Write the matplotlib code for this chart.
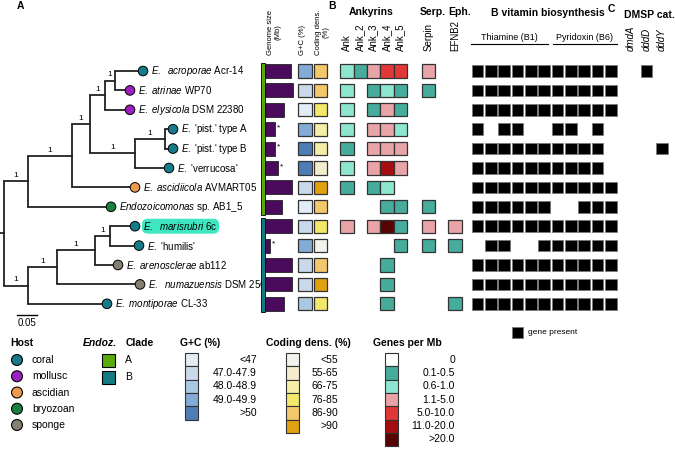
import numpy as np
import matplotlib.pyplot as plt
from matplotlib.patches import Rectangle

plt.rcParams['font.family'] = ['Liberation Sans', 'DejaVu Sans']
plt.rcParams['mathtext.fontset'] = 'custom'
plt.rcParams['mathtext.it'] = 'Liberation Sans:italic'
plt.rcParams['mathtext.rm'] = 'Liberation Sans'
plt.rcParams['mathtext.bf'] = 'Liberation Sans:bold'

# ---- data ----
# tree: (support, branch length, children); leaves have no children
tree = (None, 0.01, [
    ("1", 0.06, [
        ("1", 0.11, [
            ("1", 0.045, [
                ("1", 0.0375, [
                    ("1", 0.025, [("acroporae", 0.07, []), ("atrinae", 0.0375, [])]),
                    ("elysicola", 0.0625, [])]),
                ("1", 0.1125, [
                    ("1", 0.075, [("pistA", 0.02, []), ("pistB", 0.02, [])]),
                    ("verrucosa", 0.085, [])])]),
            ("ascidiicola", 0.1575, [])]),
        ("AB1_5", 0.2075, [])]),
    ("1", 0.06, [
        ("1", 0.0725, [
            ("1", 0.095, [
                ("1", 0.0375, [("marisrubri", 0.0625, []), ("humilis", 0.0725, [])]),
                ("arenosclerae", 0.0575, [])]),
            ("numazuensis", 0.2075, [])]),
        ("montiporae", 0.1975, [])]),
])

labels = [r"$E.$  $acroporae$ Acr-14", r"$E.$ $atrinae$ WP70", r"$E.$ $elysicola$ DSM 22380",
          r"$E.$ 'pist.' type A", r"$E.$ 'pist.' type B", r"$E.$ 'verrucosa'",
          r"$E.$ $ascidiicola$ AVMART05", r"$Endozoicomonas$ sp. AB1_5",
          r"$E.$  $marisrubri$ 6c", r"$E.$ 'humilis'", r"$E.$ $arenosclerae$ ab112",
          r"$E.$  $numazuensis$ DSM 25634", r"$E.$ $montiporae$ CL-33"]
highlight = 8
host = ["coral", "mollusc", "mollusc", "coral", "coral", "coral", "ascidian",
        "bryozoan", "coral", "coral", "sponge", "sponge", "coral"]
clade = ["A"] * 8 + ["B"] * 5
genome_mb = [6.1, 6.6, 4.5, 2.35, 2.35, 3.05, 6.35, 4.0, 6.35, 1.2, 6.35, 6.3, 4.5]
partial = [False, False, False, True, True, True, False, False, False, True, False, False, False]
gc_bin = [3, 1, 0, 3, 4, 4, 1, 0, 1, 3, 1, 1, 2]
cd_bin = [4, 4, 3, 2, 2, 1, 5, 4, 3, 0, 4, 5, 3]

gene_cols = ["Ank", "Ank_2", "Ank_3", "Ank_4", "Ank_5", "Serpin", "EFNB2"]
gene_bin = [
    [2, 1, 3, 4, 4, 3, 0],
    [2, 0, 1, 2, 1, 1, 0],
    [2, 0, 1, 3, 1, 0, 0],
    [2, 0, 3, 3, 2, 0, 0],
    [1, 0, 3, 3, 3, 0, 0],
    [2, 0, 3, 5, 3, 0, 0],
    [1, 0, 1, 2, 0, 0, 0],
    [0, 0, 0, 1, 1, 1, 0],
    [3, 0, 3, 6, 1, 3, 3],
    [0, 0, 0, 0, 1, 1, 1],
    [0, 0, 0, 1, 0, 0, 0],
    [0, 0, 0, 1, 0, 0, 0],
    [0, 0, 0, 1, 0, 0, 1],
]
vit = [
    [1, 1, 1, 1, 1, 1, 1, 1, 1, 1, 1],
    [1, 1, 1, 1, 1, 1, 1, 1, 1, 1, 1],
    [1, 1, 1, 1, 1, 1, 1, 1, 1, 1, 1],
    [1, 0, 1, 1, 0, 0, 1, 1, 0, 1, 0],
    [1, 1, 1, 1, 1, 1, 1, 1, 1, 1, 0],
    [1, 1, 1, 1, 1, 1, 1, 1, 1, 1, 0],
    [1, 1, 1, 1, 1, 1, 1, 1, 1, 1, 1],
    [1, 1, 1, 1, 1, 1, 0, 0, 1, 1, 1],
    [1, 1, 1, 1, 1, 1, 1, 1, 1, 1, 1],
    [0, 1, 1, 0, 0, 1, 1, 1, 1, 1, 1],
    [1, 1, 1, 1, 1, 1, 1, 1, 1, 1, 1],
    [1, 1, 1, 1, 1, 1, 1, 1, 1, 1, 1],
    [1, 1, 1, 1, 1, 1, 1, 1, 1, 1, 1],
]
dmsp_cols = ["dmdA", "dddD", "dddY"]
dmsp = [[0, 1, 0], [0, 0, 0], [0, 0, 0], [0, 0, 0], [0, 0, 1]] + [[0, 0, 0]] * 8

host_names = ["coral", "mollusc", "ascidian", "bryozoan", "sponge"]
host_colors = {"coral": "#167a8a", "mollusc": "#9b1fc1", "ascidian": "#eb9a4e",
               "bryozoan": "#19803f", "sponge": "#857f72"}
clade_colors = {"A": "#5aaa0e", "B": "#147b82"}
gc_labels = ["<47", "47.0-47.9", "48.0-48.9", "49.0-49.9", ">50"]
gc_colors = ["#e2ecf7", "#cbdaeb", "#a9c8e1", "#82acd6", "#4e7db6"]
cd_labels = ["<55", "55-65", "66-75", "76-85", "86-90", ">90"]
cd_colors = ["#f3f3ee", "#f3eccd", "#f5eea6", "#f3e86a", "#f3c76c", "#dfa012"]
gene_labels = ["0", "0.1-0.5", "0.6-1.0", "1.1-5.0", "5.0-10.0", "11.0-20.0", ">20.0"]
gene_colors = ["#ffffff", "#46ac9c", "#8de6cf", "#e9a4a8", "#e23737", "#a50d10", "#580404"]

# ---- layout ----
W, H = 675, 449
fig = plt.figure(figsize=(W / 100, H / 100), dpi=100)


def px_axes(x0, y0, x1, y1):
    ax = fig.add_axes([x0 / W, 1 - y1 / H, (x1 - x0) / W, (y1 - y0) / H])
    ax.set_axis_off()
    return ax


row0, dy = 71, 19.4
ytop, ybot = row0 - dy / 2, row0 + dy * 12.5

# overlay for titles and legends (pixel coordinates)
ax_o = px_axes(0, 0, W, H)
ax_o.set_xlim(0, W)
ax_o.set_ylim(H, 0)

# ---- tree ----
ax_t = px_axes(0, ytop, 255, ybot)
ax_t.set_xlim(-0.01, -0.01 + 255 / 400)
ax_t.set_ylim(12.5, -0.5)

tips = []


def walk(node, x0):
    sup, bl, kids = node
    x = x0 + bl
    if kids:
        ys = [walk(k, x) for k in kids]
        y = (ys[0] + ys[-1]) / 2
        ax_t.plot([x, x], [ys[0], ys[-1]], color="#222222", lw=1.3, solid_capstyle="butt")
        if sup:
            ax_t.text((x0 + x) / 2, y - 0.12, sup, ha="center", va="bottom", fontsize=6)
    else:
        y = len(tips)
        tips.append(x)
    ax_t.plot([x0, x], [y, y], color="#222222", lw=1.3, solid_capstyle="projecting")
    return y


walk(tree, -0.01)
rows = np.arange(len(tips))
ax_t.scatter(tips, rows, s=48, c=[host_colors[h] for h in host], edgecolors="black",
             linewidths=0.7, zorder=3, clip_on=False)
for i, (x, lab) in enumerate(zip(tips, labels)):
    kw = {}
    if i == highlight:
        kw["bbox"] = dict(boxstyle="round,pad=0.15,rounding_size=0.6", fc="#3fe6c2", ec="none")
    ax_t.annotate(lab, (x, i), xytext=(6, 0), textcoords="offset points",
                  va="center", fontsize=7, annotation_clip=False, **kw)

ax_t.plot([0.0325, 0.0825], [12.6, 12.6], color="black", lw=1, clip_on=False)
ax_t.text(0.0575, 12.75, "0.05", ha="center", va="top", fontsize=7)

# ---- genome size bars ----
ax_g = px_axes(265, ytop, 300, ybot)
ax_g.set_xlim(0, 35 / 4.255)
ax_g.set_ylim(12.5, -0.5)
ax_g.barh(rows, genome_mb, height=0.72, color="#4b0b5c", edgecolor="#222222", lw=0.6)
for i, (g, p) in enumerate(zip(genome_mb, partial)):
    if p:
        ax_g.annotate("*", (g, i), xytext=(1.5, 1), textcoords="offset points",
                      fontsize=6, va="center", annotation_clip=False)

# ---- heatmap columns (x in pixels, y in rows) ----
ax_h = px_axes(255, ytop, W, ybot)
ax_h.set_xlim(255, W)
ax_h.set_ylim(12.5, -0.5)


def cell(xc, y, w, h, fc, ec="#333333", lw=0.9):
    ax_h.add_patch(Rectangle((xc - w / 2, y - h / 2), w, h, fc=fc, ec=ec, lw=lw))


# clade bar
for c, (r0, r1) in zip(["A", "B"], [(-0.42, 7.42), (7.58, 12.42)]):
    ax_h.add_patch(Rectangle((260.5, r0), 4.5, r1 - r0, fc=clade_colors[c], ec="black", lw=0.6))

ch = 13.3 / dy
gc_x, cd_x = 305, 320.5
gene_x = [347, 360.3, 373.6, 387, 400.3, 428.5, 455]
vit_x = 477.5 + 13.33 * np.arange(11)
dmsp_x = [631, 646.5, 662]

for i in rows:
    cell(gc_x, i, 13.3, ch, gc_colors[gc_bin[i]])
    cell(cd_x, i, 13.3, ch, cd_colors[cd_bin[i]])
    for j, b in enumerate(gene_bin[i]):
        if b:
            cell(gene_x[j], i, 13.3, ch, gene_colors[b])
    for j, v in enumerate(vit[i]):
        if v:
            cell(vit_x[j], i, 11.7, 11.7 / dy, "black", ec="#777777", lw=0.5)
    for j, v in enumerate(dmsp[i]):
        if v:
            cell(dmsp_x[j], i, 11.7, 11.7 / dy, "black", ec="#777777", lw=0.5)

hy = -0.85
ax_h.text(274, hy, "Genome size\n(Mb)", rotation=90, ha="center", va="bottom", fontsize=5.5)
ax_h.text(302, hy, "G+C (%)", rotation=90, ha="center", va="bottom", fontsize=5.5)
ax_h.text(322, hy, "Coding dens.\n(%)", rotation=90, ha="center", va="bottom", fontsize=5.5)
for x, name in zip(gene_x, gene_cols):
    ax_h.text(x, hy - 0.2, name, rotation=90, ha="center", va="bottom", fontsize=7)
for x, name in zip(dmsp_x, dmsp_cols):
    ax_h.text(x, hy - 0.2, name, rotation=90, ha="center", va="bottom", fontsize=7, style="italic")

# ---- titles ----
bold = dict(fontsize=7.5, fontweight="bold", va="center")
ax_o.text(20, 6, "A", ha="center", **bold)
ax_o.text(332, 6, "B", ha="center", **bold)
ax_o.text(611, 9, "C", ha="center", **bold)
ax_o.text(371, 12, "Ankyrins", ha="center", **bold)
ax_o.text(433, 12, "Serp.", ha="center", **bold)
ax_o.text(460, 12, "Eph.", ha="center", **bold)
ax_o.text(548, 13, "B vitamin biosynthesis", ha="center", **bold)
ax_o.text(649, 15, "DMSP cat.", ha="center", **bold)
ax_o.plot([471, 548], [43.5, 43.5], color="black", lw=0.8)
ax_o.plot([553, 617], [43.5, 43.5], color="black", lw=0.8)
ax_o.text(509.5, 38, "Thiamine (B1)", ha="center", va="center", fontsize=6.5)
ax_o.text(585, 38, "Pyridoxin (B6)", ha="center", va="center", fontsize=6.5)

# ---- legends ----
ax_o.text(10, 343, "Host", ha="left", **bold)
hy0 = 360 + 16.25 * np.arange(len(host_names))
ax_o.scatter(np.full(len(host_names), 17), hy0, s=62, c=[host_colors[h] for h in host_names],
             edgecolors="black", linewidths=0.8)
for y, name in zip(hy0, host_names):
    ax_o.text(32, y, name, va="center", fontsize=7.5)

ax_o.text(83, 343, "Endoz.", ha="left", fontsize=7.5, fontweight="bold", style="italic", va="center")
ax_o.text(126, 343, "Clade", ha="left", **bold)
for k, c in enumerate(["A", "B"]):
    y = 360 + 17 * k
    ax_o.add_patch(Rectangle((102, y - 6.5), 13, 13, fc=clade_colors[c], ec="black", lw=0.8))
    ax_o.text(125, y, c, va="center", fontsize=7.5)


def scale_legend(x_title, title, xb, xl, labs, cols):
    ax_o.text(x_title, 343, title, ha="left", **bold)
    for k, (lab, col) in enumerate(zip(labs, cols)):
        y = 353 + 13.3 * k
        ax_o.add_patch(Rectangle((xb, y), 13, 13.3, fc=col, ec="#333333", lw=0.8))
        ax_o.text(xl, y + 6.65, lab, ha="right", va="center", fontsize=7.5)


scale_legend(180, "G+C (%)", 185, 257, gc_labels, gc_colors)
scale_legend(266, "Coding dens. (%)", 286, 338, cd_labels, cd_colors)
scale_legend(373, "Genes per Mb", 385, 455, gene_labels, gene_colors)

ax_o.add_patch(Rectangle((512, 327), 11, 11, fc="black", ec="#777777", lw=0.5))
ax_o.text(528, 332.5, "gene present", va="center", fontsize=6)

fig.savefig("out.png", dpi=100)
